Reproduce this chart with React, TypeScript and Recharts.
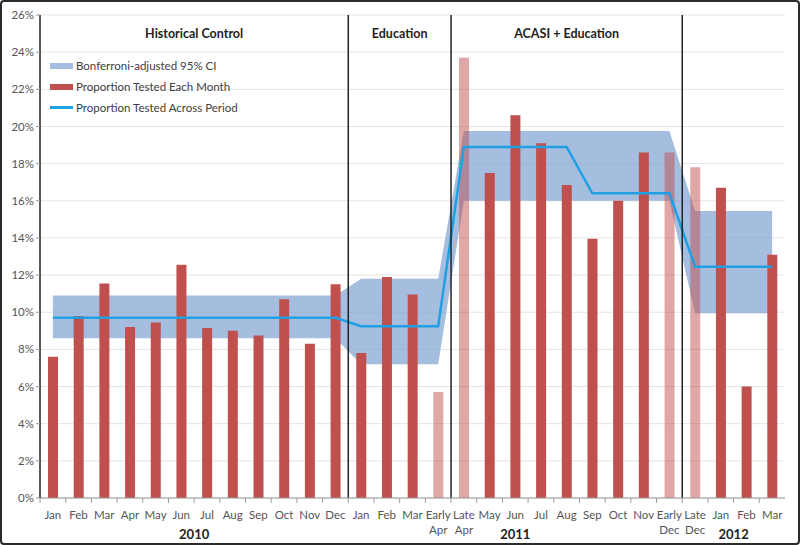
import {
  ComposedChart,
  Bar,
  Area,
  Line,
  XAxis,
  YAxis,
  CartesianGrid,
  ReferenceLine,
  ReferenceArea,
  Cell,
} from 'recharts';

// x categories (29 reporting periods)
const monthLabels = [
  'Jan', 'Feb', 'Mar', 'Apr', 'May', 'Jun', 'Jul', 'Aug', 'Sep', 'Oct', 'Nov', 'Dec',
  'Jan', 'Feb', 'Mar', 'Early Apr', 'Late Apr', 'May', 'Jun', 'Jul', 'Aug', 'Sep', 'Oct', 'Nov', 'Early Dec',
  'Late Dec', 'Jan', 'Feb', 'Mar',
];

// year label placed under a category (shifted by half a band when 'edge')
const yearLabels = [
  { index: 5, label: '2010', edge: true },
  { index: 18, label: '2011', edge: false },
  { index: 26, label: '2012', edge: true },
];

const monthlyProportion = [
  7.6, 9.8, 11.55, 9.2, 9.45, 12.55, 9.15, 9.0, 8.75, 10.7, 8.3, 11.5,
  7.8, 11.9, 10.95, 5.7, 23.7, 17.5, 20.6, 19.1, 16.85, 13.95, 16.0, 18.6, 18.6,
  17.8, 16.7, 6.0, 13.1,
];

// partial months drawn lighter
const partialMonth = [
  false, false, false, false, false, false, false, false, false, false, false, false,
  false, false, false, true, true, false, false, false, false, false, false, false, true,
  true, false, false, false,
];

const periodProportion = [
  9.7, 9.7, 9.7, 9.7, 9.7, 9.7, 9.7, 9.7, 9.7, 9.7, 9.7, 9.7,
  9.25, 9.25, 9.25, 9.25, 18.9, 18.9, 18.9, 18.9, 18.9, 16.4, 16.4, 16.4, 16.4,
  12.45, 12.45, 12.45, 12.45,
];

const ciLow = [
  8.6, 8.6, 8.6, 8.6, 8.6, 8.6, 8.6, 8.6, 8.6, 8.6, 8.6, 8.6,
  7.2, 7.2, 7.2, 7.2, 16.0, 16.0, 16.0, 16.0, 16.0, 16.0, 16.0, 16.0, 16.0,
  9.95, 9.95, 9.95, 9.95,
];

const ciHigh = [
  10.9, 10.9, 10.9, 10.9, 10.9, 10.9, 10.9, 10.9, 10.9, 10.9, 10.9, 10.9,
  11.8, 11.8, 11.8, 11.8, 19.75, 19.75, 19.75, 19.75, 19.75, 19.75, 19.75, 19.75, 19.75,
  15.45, 15.45, 15.45, 15.45,
];

const yTicks = [0, 2, 4, 6, 8, 10, 12, 14, 16, 18, 20, 22, 24, 26];

const phases = [
  { from: 0, to: 11, label: 'Historical Control' },
  { from: 12, to: 15, label: 'Education' },
  { from: 16, to: 24, label: 'ACASI + Education' },
  { from: 25, to: 28, label: 'Education' },
];

const legendRows = [
  { label: 'Bonferroni-adjusted 95% CI', kind: 'band' },
  { label: 'Proportion Tested Each Month', kind: 'bar' },
  { label: 'Proportion Tested Across Period', kind: 'line' },
];

const FONT = 'Lato, "Open Sans", sans-serif';
const BAR_RED = '#C0504D';
const LINE_BLUE = '#1EA0E3';
const BAND_BLUE = '#7FA1D2';

const data = monthLabels.map((m, i) => ({
  key: `${i}-${m}`,
  month: m,
  monthly: monthlyProportion[i],
  period: periodProportion[i],
  ci: [ciLow[i], ciHigh[i]],
}));

const keyAt = (i: number) => data[i].key;

const PLOT_LEFT = 40;
const PLOT_RIGHT = 785;
const BAND = (PLOT_RIGHT - PLOT_LEFT) / monthLabels.length;

function MonthTick(props: any) {
  const { x, y, payload } = props;
  const idx = payload.index;
  const lines = String(monthLabels[idx]).split(' ');
  const year = yearLabels.find((yl) => yl.index === idx);
  return (
    <g>
      <line x1={x - BAND / 2} x2={x - BAND / 2} y1={y - 8} y2={y - 3} stroke="#9a9a9a" />
      {lines.map((ln, k) => (
        <text
          key={k}
          x={x}
          y={y + 13 + k * 15}
          textAnchor="middle"
          fontSize={11.5}
          fill="#555"
          fontFamily={FONT}
        >
          {ln}
        </text>
      ))}
      {year && (
        <text
          x={x + (year.edge ? BAND / 2 : 0)}
          y={y + 33}
          textAnchor="middle"
          fontSize={13}
          fontWeight="bold"
          fill="#222"
          fontFamily={FONT}
        >
          {year.label}
        </text>
      )}
    </g>
  );
}

function ChartLegend() {
  return (
    <div
      style={{
        position: 'absolute',
        top: 55,
        left: 50,
        fontFamily: FONT,
        fontSize: 11.5,
        color: '#404040',
      }}
    >
      {legendRows.map((r) => (
        <div key={r.label} style={{ display: 'flex', alignItems: 'center', height: 21 }}>
          <div
            style={{
              width: 23,
              height: r.kind === 'line' ? 2.5 : 6,
              marginRight: 3,
              backgroundColor:
                r.kind === 'band' ? '#A5BDDF' : r.kind === 'bar' ? BAR_RED : LINE_BLUE,
            }}
          />
          <span>{r.label}</span>
        </div>
      ))}
    </div>
  );
}

export default function App() {
  return (
    <div style={{ position: 'relative', width: 800, height: 545, background: '#fff' }}>
      <style>{'body{margin:0}'}</style>
      <ComposedChart
        width={800}
        height={545}
        data={data}
        margin={{ top: 15, right: 15, left: 0, bottom: 0 }}
      >
        <CartesianGrid vertical={false} stroke="#e4e4e4" />
        <XAxis
          dataKey="key"
          interval={0}
          height={47}
          tick={<MonthTick />}
          tickLine={false}
          axisLine={{ stroke: '#9a9a9a' }}
        />
        <YAxis
          width={40}
          domain={[0, 26]}
          ticks={yTicks}
          tickFormatter={(v) => `${v}%`}
          tick={{ fontSize: 11.5, fill: '#555', fontFamily: FONT }}
          tickSize={4}
          tickLine={{ stroke: '#9a9a9a' }}
          axisLine={{ stroke: '#222', strokeWidth: 1.5 }}
        />
        {phases.map((p) => (
          <ReferenceArea
            key={p.label + p.from}
            x1={keyAt(p.from)}
            x2={keyAt(p.to)}
            fill="none"
            fillOpacity={0}
            label={{
              value: p.label,
              position: 'insideTop',
              offset: 14,
              fontSize: 12.5,
              fontWeight: 'bold',
              fill: '#222',
              fontFamily: FONT,
            }}
          />
        ))}
        <Area
          dataKey="ci"
          type="linear"
          stroke="none"
          fill={BAND_BLUE}
          fillOpacity={0.7}
          isAnimationActive={false}
        />
        <Bar dataKey="monthly" barSize={10} isAnimationActive={false}>
          {data.map((d, i) => (
            <Cell key={d.key} fill={BAR_RED} fillOpacity={partialMonth[i] ? 0.5 : 1} />
          ))}
        </Bar>
        <Line
          dataKey="period"
          type="linear"
          stroke={LINE_BLUE}
          strokeWidth={2.5}
          dot={false}
          isAnimationActive={false}
        />
        <ReferenceLine x={keyAt(12)} position="start" stroke="#222" strokeWidth={1.5} />
        <ReferenceLine x={keyAt(16)} position="start" stroke="#222" strokeWidth={1.5} />
        <ReferenceLine x={keyAt(25)} position="start" stroke="#222" strokeWidth={1.5} />
        <ReferenceLine x={keyAt(28)} position="end" stroke="#222" strokeWidth={1.5} />
      </ComposedChart>
      <ChartLegend />
      <div
        style={{
          position: 'absolute',
          inset: 0,
          border: '2px solid #2a2a2a',
          borderRadius: 4,
          pointerEvents: 'none',
        }}
      />
    </div>
  );
}
